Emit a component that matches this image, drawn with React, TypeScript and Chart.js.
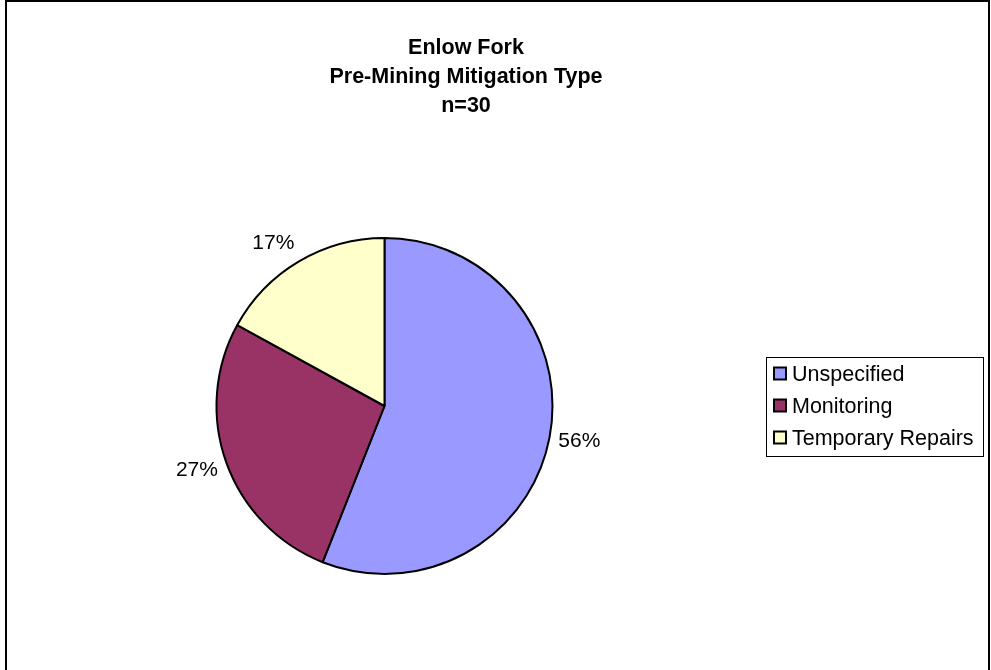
import React, { useEffect, useRef } from "react";
import { Chart, registerables } from "chart.js";

Chart.register(...registerables);

const titleLines = ["Enlow Fork", "Pre-Mining Mitigation Type", "n=30"];
const categories = ["Unspecified", "Monitoring", "Temporary Repairs"];
const percentValues = [56, 27, 17];
const sliceColors = ["#9999FF", "#993366", "#FFFFCC"];

const FONT = '"Liberation Sans", Arial, Helvetica, sans-serif';

const outsideLabels = {
  id: "outsideLabels",
  afterDatasetsDraw(chart: any) {
    const ctx = chart.ctx;
    const meta = chart.getDatasetMeta(0);
    ctx.save();
    ctx.font = `21px ${FONT}`;
    ctx.fillStyle = "#000";
    ctx.textBaseline = "middle";
    meta.data.forEach((arc: any, i: number) => {
      const { x, y, startAngle, endAngle, outerRadius } = arc.getProps(
        ["x", "y", "startAngle", "endAngle", "outerRadius"],
        true
      );
      const mid = (startAngle + endAngle) / 2;
      const d = outerRadius + 9;
      const c = Math.cos(mid);
      const s = Math.sin(mid);
      ctx.textAlign = c >= 0 ? "left" : "right";
      ctx.fillText(`${percentValues[i]}%`, x + c * d, y + s * d + s * 12);
    });
    ctx.restore();
  },
};

const frameAndLegend = {
  id: "frameAndLegend",
  afterDraw(chart: any) {
    const ctx = chart.ctx;
    ctx.save();
    ctx.strokeStyle = "#000";
    ctx.lineWidth = 2;
    ctx.strokeRect(6, 1, 983, 720);

    // legend
    const area = chart.chartArea;
    const cy = (area.top + area.bottom) / 2;
    const boxLeft = 766.5;
    const boxTop = Math.round(cy - 49) + 0.5;
    ctx.lineWidth = 1;
    ctx.strokeRect(boxLeft, boxTop, 217, 99);
    const labels: string[] = chart.data.labels;
    const colors: string[] = chart.data.datasets[0].backgroundColor;
    ctx.font = `21.5px ${FONT}`;
    ctx.textAlign = "left";
    ctx.textBaseline = "middle";
    labels.forEach((lab, i) => {
      const rowY = cy - 32 + i * 32;
      ctx.fillStyle = colors[i];
      ctx.fillRect(774, rowY - 6.5, 12, 12);
      ctx.lineWidth = 2;
      ctx.strokeStyle = "#000";
      ctx.strokeRect(774, rowY - 6.5, 12, 12);
      ctx.fillStyle = "#000";
      ctx.fillText(lab, 792, rowY + 1);
    });
    ctx.restore();
  },
};

export default function App() {
  const canvasRef = useRef<HTMLCanvasElement | null>(null);

  useEffect(() => {
    if (!canvasRef.current) return;
    const chart = new Chart(canvasRef.current, {
      type: "pie",
      data: {
        labels: categories,
        datasets: [
          {
            data: percentValues,
            backgroundColor: sliceColors,
            borderColor: "#000",
            borderWidth: 2,
          },
        ],
      },
      options: {
        responsive: false,
        animation: false,
        layout: { padding: { left: 6, right: 228, top: 237, bottom: 95 } },
        plugins: {
          title: { display: false },
          tooltip: { enabled: false },
          legend: { display: false },
        },
      },
      plugins: [outsideLabels, frameAndLegend],
    });
    return () => chart.destroy();
  }, []);

  return (
    <div style={{ position: "absolute", left: 0, top: 0, width: 991, height: 670, background: "#fff", overflow: "hidden" }}>
      <canvas ref={canvasRef} width={991} height={670} style={{ position: "absolute", left: 0, top: 0 }} />
      <div
        style={{
          position: "absolute",
          left: 0,
          top: 33,
          width: 932,
          textAlign: "center",
          fontFamily: FONT,
          fontWeight: "bold",
          fontSize: 21.5,
          lineHeight: "29px",
          color: "#000",
        }}
      >
        {titleLines.map((t) => (
          <div key={t}>{t}</div>
        ))}
      </div>
    </div>
  );
}
